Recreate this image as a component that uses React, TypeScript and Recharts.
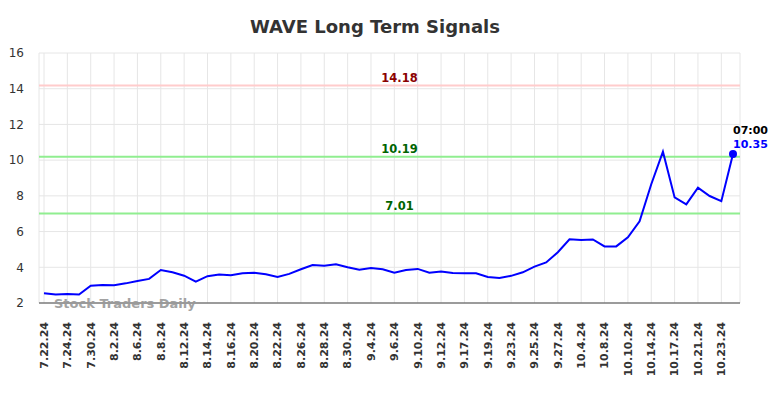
import { LineChart, Line, XAxis, YAxis, CartesianGrid, ReferenceLine } from 'recharts';

const dates = [
  '7.22.24', '7.23.24', '7.24.24', '7.25.24', '7.30.24', '7.31.24', '8.2.24', '8.5.24', '8.6.24', '8.7.24',
  '8.8.24', '8.9.24', '8.12.24', '8.13.24', '8.14.24', '8.15.24', '8.16.24', '8.19.24', '8.20.24', '8.21.24',
  '8.22.24', '8.23.24', '8.26.24', '8.27.24', '8.28.24', '8.29.24', '8.30.24', '9.3.24', '9.4.24', '9.5.24',
  '9.6.24', '9.9.24', '9.10.24', '9.11.24', '9.12.24', '9.13.24', '9.17.24', '9.18.24', '9.19.24', '9.20.24',
  '9.23.24', '9.24.24', '9.25.24', '9.26.24', '9.27.24', '9.30.24', '10.4.24', '10.7.24', '10.8.24', '10.9.24',
  '10.10.24', '10.11.24', '10.14.24', '10.15.24', '10.17.24', '10.18.24', '10.21.24', '10.22.24', '10.23.24', '10.24.24',
];

const prices = [
  2.55, 2.47, 2.5, 2.47, 2.97, 3.01, 3.0, 3.1, 3.23, 3.35,
  3.85, 3.72, 3.53, 3.2, 3.5, 3.59, 3.55, 3.66, 3.69, 3.61,
  3.46, 3.63, 3.89, 4.13, 4.09, 4.17, 4.0, 3.86, 3.96, 3.89,
  3.7, 3.85, 3.91, 3.69, 3.77, 3.68, 3.66, 3.66, 3.46, 3.4,
  3.52, 3.72, 4.04, 4.27, 4.84, 5.57, 5.53, 5.56, 5.17, 5.17,
  5.68, 6.57, 8.65, 10.47, 7.91, 7.52, 8.46, 7.99, 7.7, 10.35,
];

const tickLabels = [
  '7.22.24', '7.24.24', '7.30.24', '8.2.24', '8.6.24', '8.8.24', '8.12.24', '8.14.24', '8.16.24', '8.20.24',
  '8.22.24', '8.26.24', '8.28.24', '8.30.24', '9.4.24', '9.6.24', '9.10.24', '9.12.24', '9.17.24', '9.19.24',
  '9.23.24', '9.25.24', '9.27.24', '10.4.24', '10.8.24', '10.10.24', '10.14.24', '10.17.24', '10.21.24', '10.23.24',
];

const yTicks = [2, 4, 6, 8, 10, 12, 14, 16];

const levels = [
  { value: 14.18, line: '#ffcccc', text: '#8b0000' },
  { value: 10.19, line: '#90ee90', text: '#006400' },
  { value: 7.01, line: '#90ee90', text: '#006400' },
];

const lastTime = '07:00';

const data = dates.map((d, i) => ({ date: d, price: prices[i] }));
const FONT = '"DejaVu Sans", sans-serif';

const DateTick = (props: any) => {
  const { x, y, payload } = props;
  return (
    <g transform={`translate(${x},${y})`}>
      <text
        transform="rotate(-90)"
        x={-11}
        dy="0.35em"
        textAnchor="end"
        fontFamily={FONT}
        fontSize={11}
        fontWeight="bold"
        fill="#333"
      >
        {payload.value}
      </text>
    </g>
  );
};

const LastDot = (props: any) => {
  const { cx, cy, index } = props;
  if (index !== prices.length - 1) return <g key={index} />;
  return (
    <g key={index}>
      <circle cx={cx} cy={cy} r={4} fill="#0000ff" />
      <text x={cx} y={cy - 19.5} fontFamily={FONT} fontSize={11} fontWeight="bold" fill="#000">
        {lastTime}
      </text>
      <text x={cx} y={cy - 6} fontFamily={FONT} fontSize={11} fontWeight="bold" fill="#0000ff">
        {prices[index].toFixed(2)}
      </text>
    </g>
  );
};

export default function App() {
  return (
    <div style={{ position: 'absolute', left: 0, top: 0, width: 784, height: 398, background: '#fff' }}>
      <LineChart
        width={784}
        height={398}
        data={data}
        margin={{ top: 53, right: 44, left: 0, bottom: 0 }}
      >
        <CartesianGrid stroke="#e6e6e6" strokeWidth={1} />
        <XAxis
          dataKey="date"
          ticks={tickLabels}
          interval={0}
          height={95}
          padding={{ left: 5, right: 7 }}
          tickLine={false}
          axisLine={{ stroke: '#444', strokeWidth: 1.2 }}
          tick={<DateTick />}
        />
        <YAxis
          domain={[2, 16]}
          ticks={yTicks}
          width={39}
          tickLine={false}
          axisLine={false}
          tickMargin={9}
          tick={{ fill: '#333', fontSize: 12, fontFamily: FONT }}
        />
        {levels.map((l) => (
          <ReferenceLine
            key={l.value}
            y={l.value}
            stroke={l.line}
            strokeWidth={2}
            label={(p: any) => (
              <text
                x={p.viewBox.x + p.viewBox.width / 2 + 10}
                y={p.viewBox.y - 4}
                textAnchor="middle"
                fontFamily={FONT}
                fontSize={11.5}
                fontWeight="bold"
                fill={l.text}
              >
                {l.value.toFixed(2)}
              </text>
            )}
          />
        ))}
        <Line
          type="linear"
          dataKey="price"
          stroke="#0000ff"
          strokeWidth={2}
          dot={LastDot}
          activeDot={false}
          isAnimationActive={false}
        />
      </LineChart>
      <svg
        width={784}
        height={398}
        style={{ position: 'absolute', left: 0, top: 0, pointerEvents: 'none' }}
      >
        <text x={375} y={33} textAnchor="middle" fontFamily={FONT} fontSize={18} fontWeight="bold" fill="#333">
          WAVE Long Term Signals
        </text>
        <text x={54} y={307.5} fontFamily={FONT} fontSize={13} fontWeight="bold" fill="#999" opacity={0.9}>
          Stock Traders Daily
        </text>
      </svg>
    </div>
  );
}
